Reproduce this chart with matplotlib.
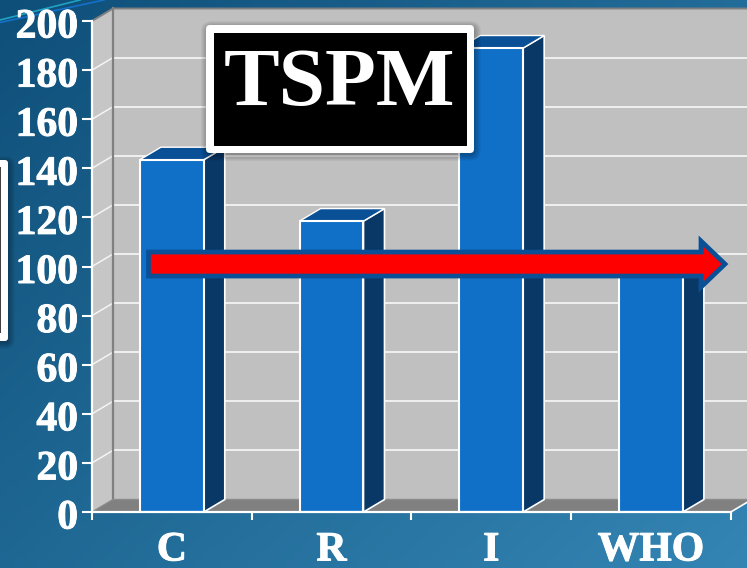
import numpy as np
import matplotlib
matplotlib.use("Agg")
import matplotlib.pyplot as plt
import matplotlib.patheffects as pe
from matplotlib.patches import Polygon, FancyBboxPatch
from matplotlib.transforms import ScaledTranslation

categories = ["C", "R", "I", "WHO"]
values = [143.5, 118.5, 189, 100]
y_ticks = list(range(0, 201, 20))
chart_title = "TSPM"
reference_value = 101

W, H = 747, 568
plt.rcParams["font.family"] = ["Liberation Serif", "DejaVu Serif"]
plt.rcParams["font.weight"] = "bold"
fig = plt.figure(figsize=(W / 100, H / 100), dpi=100)

# background gradient
bg = fig.add_axes([0, 0, 1, 1], zorder=0)
bg.axis("off")
gx, gy = np.meshgrid(np.linspace(0, 1, 200), np.linspace(0, 1, 150))
t = (0.55 * gx + 0.45 * gy)[..., None]
c0 = np.array([0x0e, 0x4f, 0x79]) / 255
c1 = np.array([0x34, 0x85, 0xb4]) / 255
bg.imshow(c0 + (c1 - c0) * t, aspect="auto", extent=(0, W, H, 0))
bg.set_xlim(0, W); bg.set_ylim(H, 0)
bg.plot([0, 80], [20, 0], color="#1fa3c4", lw=1.2)
bg.plot([0, 104], [22.5, 0], color="#1470c8", lw=1.2)

# main chart
x0, x1, y_base, y_top = 92, 747, 512, 21
ax = fig.add_axes([x0 / W, 1 - y_base / H, (x1 - x0) / W, (y_base - y_top) / H], zorder=1)
ax.patch.set_alpha(0)
ppx = 159.7
xmax = (x1 - x0) / ppx
ax.set_xlim(0, xmax)
ax.set_ylim(0, 200)
ppy = (y_base - y_top) / 200
dx, dy = 21 / ppx, 12.5 / ppy
n = len(categories)
far = n + dx

ax.add_patch(Polygon([(dx, dy), (far, dy), (far, 200 + dy), (dx, 200 + dy)], fc="#c0c0c0", ec="none", zorder=1, clip_on=False))
ax.add_patch(Polygon([(0, 0), (dx, dy), (dx, 200 + dy), (0, 200)], fc="#c6c6c6", ec="none", zorder=1, clip_on=False))
ax.add_patch(Polygon([(0, 0), (n, 0), (far, dy), (dx, dy)], fc="#808080", ec="none", zorder=1.5, clip_on=False))
for v in y_ticks[1:-1]:
    ax.plot([dx, far], [v + dy, v + dy], color="#f4f4f4", lw=1.3, zorder=2, clip_on=False)
    ax.plot([0, dx], [v, v + dy], color="#f4f4f4", lw=1.1, zorder=2, clip_on=False)
ax.plot([dx, dx], [dy, 200 + dy], color="#808080", lw=1.6, zorder=2.5, clip_on=False)
ax.plot([0, dx, far], [200, 200 + dy, 200 + dy], color="#808080", lw=1.4, zorder=2.5, clip_on=False)
ax.plot([0, dx, far], [0, dy, dy], color="#8c8c8c", lw=1.0, zorder=2.5, clip_on=False)
ax.plot([n, far], [0, dy], color="white", lw=1.2, zorder=2.5, clip_on=False)

xs = np.arange(n) + 0.5
bw = 0.40
for x, v in zip(xs, values):
    l, r = x - bw / 2, x + bw / 2
    ax.add_patch(Polygon([(r, 0), (r + dx, dy), (r + dx, v + dy), (r, v)], fc="#0a3866", ec="white", lw=1.2, zorder=3, clip_on=False))
    ax.add_patch(Polygon([(l, v), (l + dx, v + dy), (r + dx, v + dy), (r, v)], fc="#0a5096", ec="white", lw=1.0, zorder=3, clip_on=False))
ax.bar(xs, values, width=bw, color="#1070c8", edgecolor="white", linewidth=1.5, zorder=4)

for s in ("top", "right"):
    ax.spines[s].set_visible(False)
for s in ("left", "bottom"):
    ax.spines[s].set_color("white")
    ax.spines[s].set_linewidth(1.6)
    ax.spines[s].set_zorder(6)
ax.spines["bottom"].set_bounds(0, n)
stroke = [pe.withStroke(linewidth=0.7, foreground="white")]
ax.set_yticks(y_ticks)
ax.set_yticklabels([str(v) for v in y_ticks], fontsize=30, color="white", fontweight="bold", path_effects=stroke)
ax.tick_params(axis="y", colors="white", length=7, width=1.5, pad=3)
down = ScaledTranslation(0, -2 / 100, fig.dpi_scale_trans)
for lbl in ax.get_yticklabels():
    lbl.set_transform(lbl.get_transform() + down)
ax.set_xticks(np.arange(0, n + 1))
ax.set_xticklabels([])
ax.tick_params(axis="x", which="major", colors="white", length=6, width=1.5)
ax.set_xticks(xs, minor=True)
ax.set_xticklabels(categories, minor=True, fontsize=30, color="white", fontweight="bold", path_effects=stroke)
ax.tick_params(axis="x", which="minor", length=0, pad=14)

# overlay: reference arrow, title box, cut-off box
ov = fig.add_axes([0, 0, 1, 1], zorder=2)
ov.axis("off")
ov.set_xlim(0, W); ov.set_ylim(H, 0)
ya = y_base - reference_value * ppy
ov.add_patch(Polygon([(148.5, ya - 12), (701, ya - 12), (701, ya - 23), (725, ya),
                      (701, ya + 23), (701, ya + 12), (148.5, ya + 12)],
                     fc="#ff0000", ec="#0a5096", lw=3.4, joinstyle="miter"))

def box(l, t, r, b, fc, rad):
    for k in range(7, 0, -1):
        ov.add_patch(FancyBboxPatch((l + 2 - k, t + 3 - k), r - l + 2 * k - 2, b - t + 2 * k - 2,
                                    boxstyle=f"round,pad=0,rounding_size={rad + k}",
                                    fc="black", ec="none", alpha=0.045))
    ov.add_patch(FancyBboxPatch((l, t), r - l, b - t, boxstyle=f"round,pad=0,rounding_size={rad}",
                                fc=fc, ec="none"))

box(206, 25, 474, 153, "white", 4)
ov.add_patch(Polygon([(214, 33), (467, 33), (467, 146), (214, 146)], fc="black", ec="none"))
ov.text(339, 86, chart_title, fontsize=60, color="white", fontweight="bold", ha="center", va="center")

box(-20, 160, 8, 341, "white", 3)
ov.add_patch(Polygon([(-5, 167), (1, 167), (1, 333), (-5, 333)], fc="#404040", ec="none"))

fig.savefig("out.png", dpi=100)
